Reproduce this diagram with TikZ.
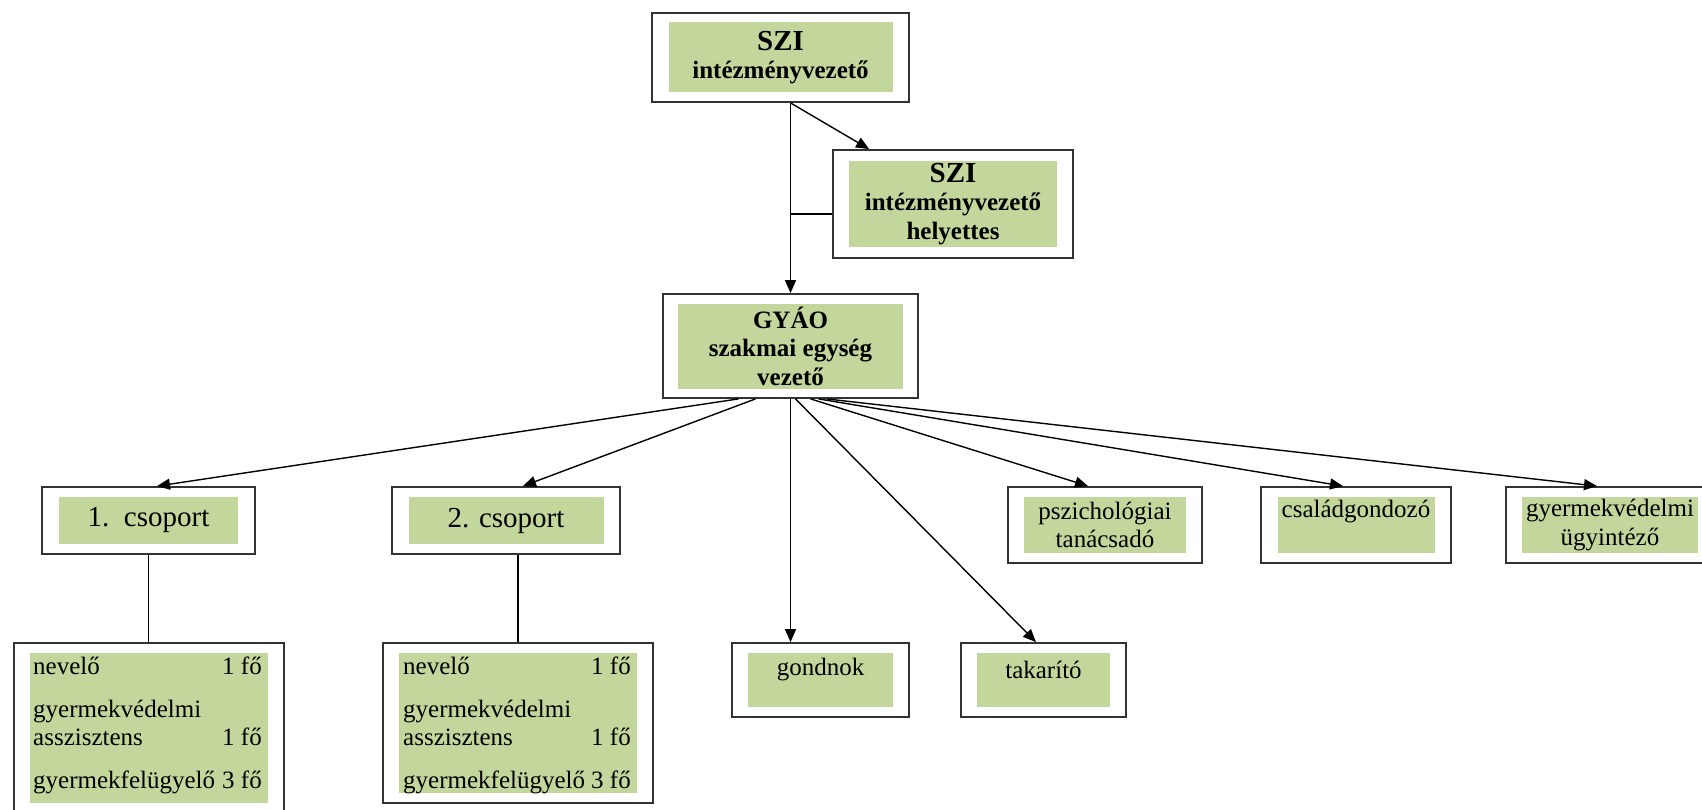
\documentclass[tikz,border=0pt]{standalone}
\usepackage{fontspec}
\setmainfont{Liberation Serif}
\usetikzlibrary{arrows.meta}

\definecolor{zoldes}{HTML}{C3D69B}
\newcommand{\nagybetu}{\fontsize{29}{32}\selectfont}
\newcommand{\kozepbetu}{\fontsize{25}{28.5}\selectfont}

\tikzset{
  keret/.style={draw=black!80, line width=1.8pt, fill=white, inner sep=0pt},
  zold/.style={fill=zoldes, inner sep=0pt, align=center, font=\kozepbetu},
  nyil/.style={-{Triangle[length=13pt,width=11pt]}, line width=1.4pt},
  vonal/.style={line width=1.4pt},
  szoveg/.style={font=\kozepbetu, inner sep=0pt}
}

\begin{document}
\begin{tikzpicture}[x=1pt, y=-1pt]
\useasboundingbox (0,0) rectangle (1702,810);
\clip (0,0) rectangle (1702,810);

% vezetes
\node[keret, minimum width=257, minimum height=89] (szi) at (780.5,57.5) {};
\node[zold, minimum width=224, minimum height=70] (szi-z) at (szi)
  {{\nagybetu\bfseries SZI}\\\bfseries intézményvezető};

\node[keret, minimum width=240, minimum height=108] (helyettes) at (953,204) {};
\node[zold, minimum width=208, minimum height=86] (helyettes-z) at (helyettes)
  {{\nagybetu\bfseries SZI}\\\bfseries intézményvezető\\\bfseries helyettes};

\node[keret, minimum width=255, minimum height=104] (gyao) at (790.5,346) {};
\node[zold, minimum width=225, minimum height=85] (gyao-z) at (gyao)
  {\bfseries GYÁO\\\bfseries szakmai egység\\\bfseries vezető};

% csoportok
\node[keret, minimum width=213, minimum height=67] (csop1) at (148.5,520.5) {};
\node[zold, minimum width=179, minimum height=47, font=\nagybetu] (csop1-z) at (csop1) {1.~~csoport};
\node[keret, minimum width=228, minimum height=67] (csop2) at (506,520.5) {};
\node[zold, minimum width=195, minimum height=47, font=\nagybetu] (csop2-z) at (csop2) {2. csoport};

\node[keret, minimum width=270, minimum height=170] (nevelok1) at (149,728) {};
\node[zold, minimum width=238, minimum height=150] (nevelok1-z) at (nevelok1) {};
\node[keret, minimum width=270, minimum height=160] (nevelok2) at (518,723) {};
\node[zold, minimum width=238, minimum height=140] (nevelok2-z) at (nevelok2) {};

\foreach \d/\bal/\jobb in {1/33/262, 2/403/631} {
  \node[szoveg, anchor=base west] (n\d-nevelo) at (\bal,674) {nevelő};
  \node[szoveg, anchor=base east] (n\d-nevelo-fo) at (\jobb,674) {1 fő};
  \node[szoveg, anchor=base west] (n\d-gyv) at (\bal,717) {gyermekvédelmi};
  \node[szoveg, anchor=base west] (n\d-asszisztens) at (\bal,745) {asszisztens};
  \node[szoveg, anchor=base east] (n\d-asszisztens-fo) at (\jobb,745) {1 fő};
  \node[szoveg, anchor=base west] (n\d-felugyelo) at (\bal,788) {gyermekfelügyelő};
  \node[szoveg, anchor=base east] (n\d-felugyelo-fo) at (\jobb,788) {3 fő};
}

% egyeb munkatarsak
\node[keret, minimum width=177, minimum height=74] (gondnok) at (820.5,680) {};
\node[zold, minimum width=145, minimum height=54] (gondnok-z) at (gondnok) {};
\node[szoveg] (gondnok-t) at ([yshift=-17pt]gondnok-z.north) {gondnok};

\node[keret, minimum width=165, minimum height=74] (takarito) at (1043.5,680) {};
\node[zold, minimum width=133, minimum height=54] (takarito-z) at (takarito) {};
\node[szoveg] (takarito-t) at ([yshift=-17pt]takarito-z.north) {takarító};

\node[keret, minimum width=194, minimum height=76] (pszich) at (1105,525) {};
\node[zold, minimum width=162, minimum height=56] (pszich-z) at (pszich) {pszichológiai\\tanácsadó};

\node[keret, minimum width=190, minimum height=76] (csalad) at (1356,525) {};
\node[zold, minimum width=157, minimum height=56] (csalad-z) at (csalad) {};
\node[szoveg] (csalad-t) at ([yshift=-15pt]csalad-z.north) {családgondozó};

\node[keret, minimum width=208, minimum height=76] (ugyintezo) at (1610,525) {};
\node[zold, minimum width=176, minimum height=56] (ugyintezo-z) at (ugyintezo) {gyermekvédelmi\\ügyintéző};

% kapcsolatok
\draw[nyil] (gyao.north |- szi.south) -- (gyao.north);
\draw[nyil] (gyao.north |- szi.south) -- ([xshift=37pt]helyettes.north west);
\coordinate (h-be) at ([yshift=-10pt]helyettes.west);
\draw[vonal] (h-be -| gyao.north) -- (h-be);

\foreach \cel/\ki/\be in {csop1/-52/8.5, csop2/-35/17, takarito/5/-7.5,
                          pszich/20/-17, csalad/28/-13, ugyintezo/36/-13}
  \draw[nyil] ([xshift=\ki pt]gyao.south) -- ([xshift=\be pt]\cel.north);
\draw[nyil] (gyao.south) -- (gyao.south |- gondnok.north);

\draw[vonal] (csop1.south) -- (csop1.south |- nevelok1.north);
\draw[vonal] (nevelok2.north |- csop2.south) -- (nevelok2.north);
\end{tikzpicture}
\end{document}
